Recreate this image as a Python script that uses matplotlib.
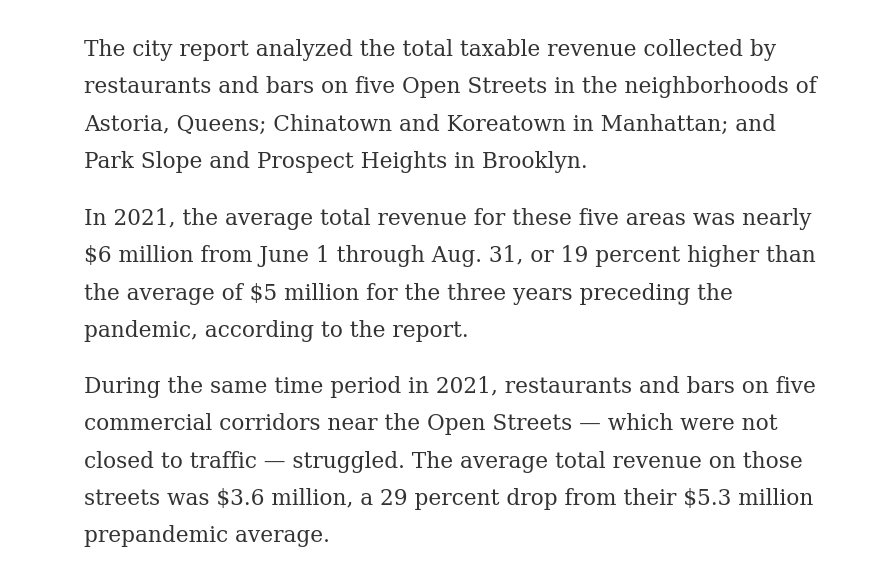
import matplotlib
matplotlib.use("Agg")
import matplotlib.pyplot as plt

# paragraphs, one entry per line as wrapped in the reference
para1 = [
    "The city report analyzed the total taxable revenue collected by",
    "restaurants and bars on five Open Streets in the neighborhoods of",
    "Astoria, Queens; Chinatown and Koreatown in Manhattan; and",
    "Park Slope and Prospect Heights in Brooklyn.",
]
para2 = [
    "In 2021, the average total revenue for these five areas was nearly",
    "$6 million from June 1 through Aug. 31, or 19 percent higher than",
    "the average of $5 million for the three years preceding the",
    "pandemic, according to the report.",
]
para3 = [
    "During the same time period in 2021, restaurants and bars on five",
    "commercial corridors near the Open Streets \u2014 which were not",
    "closed to traffic \u2014 struggled. The average total revenue on those",
    "streets was $3.6 million, a 29 percent drop from their $5.3 million",
    "prepandemic average.",
]
para_tops = [50, 219, 387]  # y of first line centre, px
line_gap = 37.3

W, H = 877, 576
fig = plt.figure(figsize=(W / 100, H / 100), dpi=100)
fig.patch.set_facecolor("white")

# fit font size so the widest line spans roughly the reference width
probe = fig.text(0, 0, para1[1], fontsize=10, family="DejaVu Serif", parse_math=False)
fig.canvas.draw()
w10 = probe.get_window_extent().width
probe.remove()
fs = 10 * 731 / w10

for top, lines in zip(para_tops, [para1, para2, para3]):
    for i, line in enumerate(lines):
        y = top + i * line_gap
        fig.text(84 / W, 1 - y / H, line, fontsize=fs, family="DejaVu Serif",
                 color="#333333", va="center", ha="left", parse_math=False)

fig.savefig("out.png", dpi=100, facecolor="white")
